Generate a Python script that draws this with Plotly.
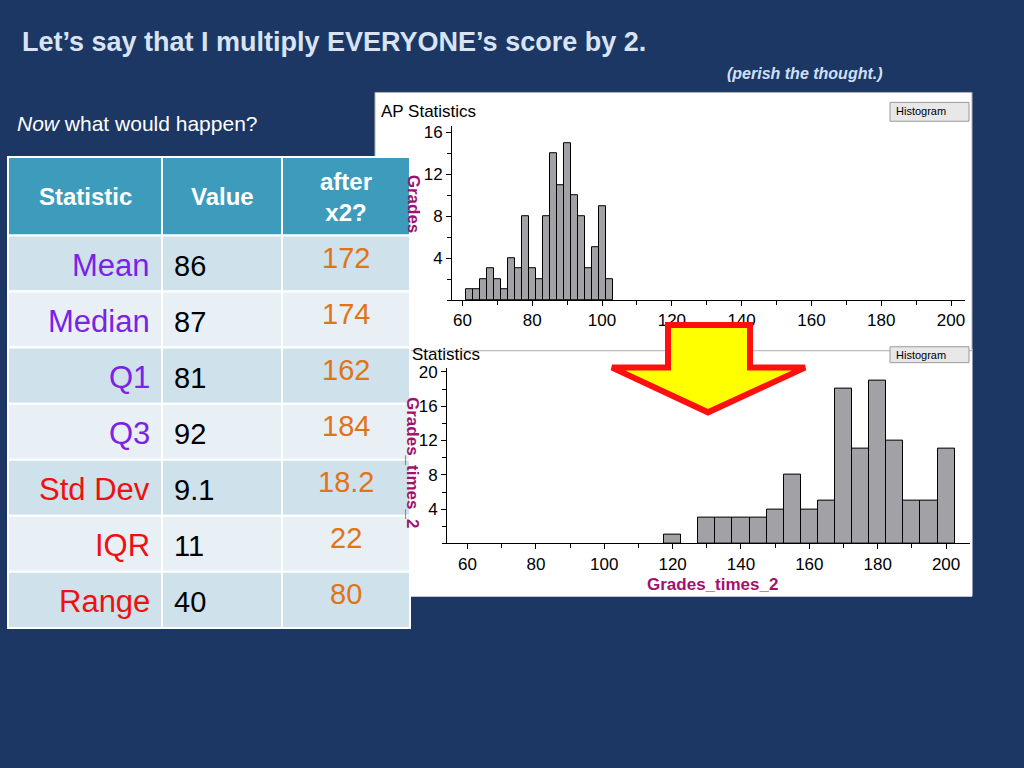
import plotly.graph_objects as go

W, H = 1024, 768
def px(x): return x / W
def py(y): return 1 - y / H

top_x = [62, 64, 66, 68, 70, 72, 74, 76, 78, 80, 82, 84, 86, 88, 90, 92, 94, 96, 98, 100, 102]
top_y = [1, 1, 2, 3, 2, 1, 4, 3, 8, 3, 2, 8, 14, 11, 15, 10, 8, 3, 5, 9, 2]
bot_x = [120, 130, 135, 140, 145, 150, 155, 160, 165, 170, 175, 180, 185, 190, 195, 200]
bot_y = [1, 3, 3, 3, 3, 4, 8, 4, 5, 18, 11, 19, 12, 5, 5, 11]

stats = ["Mean", "Median", "Q1", "Q3", "Std Dev", "IQR", "Range"]
values = ["86", "87", "81", "92", "9.1", "11", "40"]
after = ["172", "174", "162", "184", "18.2", "22", "80"]
stat_colors = ["#7b22e6", "#7b22e6", "#7b22e6", "#7b22e6", "#f01010", "#f01010", "#f01010"]

FONT = "Liberation Sans, Arial, sans-serif"
fig = go.Figure()
fig.add_trace(go.Bar(x=top_x, y=top_y, width=2, marker=dict(color="#a2a2a6", line=dict(color="black", width=1)),
                     xaxis="x", yaxis="y"))
fig.add_trace(go.Bar(x=bot_x, y=bot_y, width=5, marker=dict(color="#a2a2a6", line=dict(color="black", width=1)),
                     xaxis="x2", yaxis="y2"))

axcommon = dict(showgrid=False, zeroline=False, showline=True, linecolor="black", ticks="outside",
                tickcolor="black", tickfont=dict(size=17, color="black", family=FONT), fixedrange=True)
fig.update_layout(
    width=W, height=H, margin=dict(l=0, r=0, t=0, b=0), showlegend=False,
    paper_bgcolor="#1c3763", plot_bgcolor="rgba(0,0,0,0)", bargap=0, font=dict(family=FONT),
    xaxis=dict(domain=[px(452), px(965)], range=[57, 204], tickvals=[60, 80, 100, 120, 140, 160, 180, 200],
               minor=dict(dtick=10, ticks="outside", tickcolor="black", ticklen=4), anchor="y", **axcommon),
    yaxis=dict(domain=[py(297), py(122)], range=[0, 16.6], tickvals=[4, 8, 12, 16],
               minor=dict(dtick=2, ticks="outside", tickcolor="black", ticklen=4), anchor="x", **axcommon),
    xaxis2=dict(domain=[px(447), px(970)], range=[54, 207], tickvals=[60, 80, 100, 120, 140, 160, 180, 200],
                minor=dict(dtick=10, ticks="outside", tickcolor="black", ticklen=4), anchor="y2", **axcommon),
    yaxis2=dict(domain=[py(542), py(365)], range=[0, 20.5], tickvals=[4, 8, 12, 16, 20],
                minor=dict(dtick=2, ticks="outside", tickcolor="black", ticklen=4), anchor="x2", **axcommon),
)

shapes = []
def rect(x0, y0, x1, y1, fill, line=None, layer="below", lw=1):
    shapes.append(dict(type="rect", xref="paper", yref="paper", x0=px(x0), x1=px(x1), y0=py(y1), y1=py(y0),
                       fillcolor=fill, line=dict(color=line or fill, width=lw), layer=layer))
rect(410, 346, 972, 595, "white")
rect(375, 88, 972, 348, "white", line="#b0b0b0")
rect(890, 98, 969, 117, "#e8e8e8", line="#999", layer="above")
rect(890, 344, 969, 360, "#e8e8e8", line="#999", layer="above")

rect(8, 153, 410, 627, "#ffffff", layer="above")
rect(8, 153, 410, 232, "#3d9cbc", line="white", layer="above", lw=2)
row_top = 232
row_h = (627 - 232) / 7
for i in range(7):
    fill = "#cfe1eb" if i % 2 == 0 else "#e8f0f6"
    rect(8, row_top + i * row_h, 410, row_top + (i + 1) * row_h, fill, line="white", layer="above", lw=2)
for xv in [162, 282]:
    shapes.append(dict(type="line", xref="paper", yref="paper", x0=px(xv), x1=px(xv), y0=py(153), y1=py(627),
                       line=dict(color="white", width=2), layer="above"))

pts = [(668, 322), (750, 322), (750, 365), (805, 365), (708, 410), (612, 365), (668, 365)]
path = "M " + " L ".join(f"{px(a)},{py(b)}" for a, b in pts) + " Z"
shapes.append(dict(type="path", xref="paper", yref="paper", path=path, fillcolor="#ffff00",
                   line=dict(color="#ff1010", width=6), layer="above"))
fig.update_layout(shapes=shapes)

ann = []
def text(x, y, s, size, color, xanchor="left", bold=False, italic=False, angle=0):
    if bold: s = f"<b>{s}</b>"
    if italic: s = f"<i>{s}</i>"
    ann.append(dict(x=px(x), y=py(y), xref="paper", yref="paper", text=s, showarrow=False, xanchor=xanchor,
                    yanchor="middle", textangle=angle, font=dict(size=size, color=color, family=FONT)))

text(20, 37, "Let’s say that I multiply EVERYONE’s score by 2.", 27, "#d8e4f4", bold=True)
text(885, 69, "(perish the thought.)", 16, "#cfe0f5", xanchor="right", bold=True, italic=True)
text(15, 119, "<i>Now</i> what would happen?", 21, "white")
text(379, 107, "AP Statistics", 17, "black")
text(410, 352, "Statistics", 17, "black")
text(921, 107, "Histogram", 11, "black", xanchor="center")
text(921, 352, "Histogram", 11, "black", xanchor="center")
text(712, 583, "Grades_times_2", 17, "#a0126e", xanchor="center", bold=True)
text(413, 200, "Grades", 17, "#a0126e", xanchor="center", bold=True, angle=90)
text(413, 460, "Grades_times_2", 17, "#a0126e", xanchor="center", bold=True, angle=90)

text(85, 193, "Statistic", 24, "white", xanchor="center", bold=True)
text(222, 193, "Value", 24, "white", xanchor="center", bold=True)
text(346, 193, "after<br>x2?", 24, "white", xanchor="center", bold=True)
for i in range(7):
    yc = row_top + (i + 0.5) * row_h
    text(152, yc + 2, stats[i], 31, stat_colors[i], xanchor="right")
    text(172, yc + 2, values[i], 29, "black")
    text(346, yc - 6, after[i], 29, "#e07418", xanchor="center")
fig.update_layout(annotations=ann)

fig.write_html("out.html", config={"displayModeBar": False},
               post_script="document.body.style.margin='0';document.body.style.overflow='hidden';")
